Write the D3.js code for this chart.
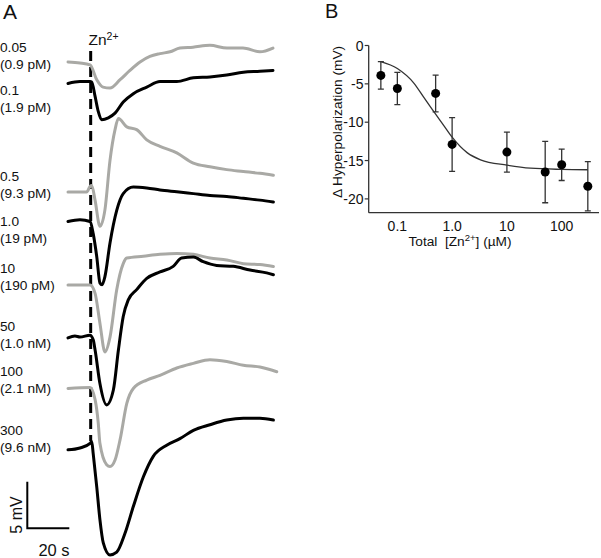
<!DOCTYPE html>
<html><head><meta charset="utf-8">
<script src="https://cdn.jsdelivr.net/npm/d3@7"></script>
<style>
html,body{margin:0;padding:0;background:#fff;}
svg{display:block;font-family:"Liberation Sans",Arial,sans-serif;}
</style></head>
<body><svg id="c" width="601" height="558"></svg>
<script>
// ---------- Panel A data: traces as [time (s), ΔV (mV)] ----------
const concLabels = ["0.05","0.1","0.5","1.0","10","50","100","300"];
const freeLabels = ["(0.9 pM)","(1.9 pM)","(9.3 pM)","(19 pM)","(190 pM)","(1.0 nM)","(2.1 nM)","(9.6 nM)"];
const traceColors = ["gray","black","gray","black","gray","black","gray","black"];
const traceOffsets = [-6.67,-8.87,-20.54,-23.82,-30.65,-36.24,-41.67,-48.17]; // stacking baseline, mV
const trace005 = [[0,0],[5.7,-0.1],[10.5,-0.3],[13.7,-1.9],[16.7,-2.7],[20,-2.8],[24.8,-1.9],[29.5,-0.9],[34.3,0],[39,0.6],[43.8,0.9],[48.6,1.1],[53.3,1.5],[59.5,1.6],[67.6,1.8],[75.7,1.5],[83.3,1.5],[91.4,1.1],[97.6,1.5]];
const trace01 = [[0,-0.1],[5.7,0.1],[10.5,0.1],[11.3,0.05],[12.9,-1.5],[14.4,-3.1],[16,-4.0],[19.2,-3.8],[22.4,-3.3],[26.3,-2.1],[31.1,-1.2],[37.5,-0.5],[43.8,0.1],[51.8,0.1],[59.7,0.5],[67.6,0.6],[75.6,0.8],[83.5,1.1],[91.4,1.2],[97.6,1.3]];
const trace05 = [[0,-0.1],[8.9,-0.1],[10.5,0.5],[11.3,0.6],[12.9,-1.0],[15.2,-3.8],[17.6,-2.0],[20,3.3],[22.4,6.6],[24,7.8],[28,6.9],[32.7,6.6],[37.5,5.5],[43.8,4.8],[51.8,4.1],[59.7,3.0],[67.6,2.6],[75.6,2.3],[83.5,2.1],[91.4,1.9],[97.8,1.7]];
const trace1 = [[0,0],[5.7,0.2],[10.5,0],[12,-1.3],[13.7,-3.8],[15.2,-6.6],[16.2,-6.8],[17.6,-5.9],[20,-2.3],[23.2,1.2],[26.3,3.0],[31.1,3.7],[37.5,3.6],[43.8,3.4],[51.8,3.2],[59.7,3.0],[67.6,2.8],[75.6,2.7],[83.5,2.5],[91.4,2.3],[97.8,2.1]];
const trace10 = [[0,0],[10.5,0],[12.9,-0.9],[15.2,-4.1],[17.6,-7.2],[20,-5.6],[23.2,-0.5],[26.3,2.3],[28,2.9],[35.9,3.1],[43.8,3.3],[51.8,3.4],[59.7,3.3],[67.6,2.9],[75.6,2.7],[83.5,2.3],[91.4,2.2],[97.8,2.0]];
const trace50 = [[0,-0.1],[3.3,0.1],[5.7,0],[10.5,0.2],[12,-0.3],[12.9,-1.4],[15.2,-5.0],[18.4,-7.3],[21.6,-5.7],[24,-1.4],[26.3,2.2],[28.7,4.0],[32.7,5.1],[37.5,6.3],[43.8,7.0],[50.1,7.6],[54.1,8.5],[59.7,8.6],[64.4,8.1],[70.8,7.7],[78.7,7.6],[86.7,7.2],[94.6,6.9],[97.8,6.7]];
const trace100 = [[0,-0.1],[10.5,0],[12.9,-1.3],[14.4,-3.8],[15.2,-6.0],[18.4,-8.3],[20,-8.5],[22.4,-7.8],[24.8,-5.6],[28,-1.7],[31.1,-0.1],[37.5,0.8],[43.8,1.3],[51.8,2.1],[59.7,2.6],[67.6,3.0],[75.6,2.8],[83.5,2.4],[91.4,2.2],[99.4,1.7]];
const trace300 = [[0,-0.2],[5.7,0],[10.5,0.5],[11.3,0.7],[12,-0.6],[13.7,-4.2],[15.2,-7.7],[16.8,-10.2],[20,-11.5],[23.2,-11.2],[27.1,-9.2],[31.1,-6.3],[35.9,-3.1],[40.6,-0.9],[47,0.3],[53.3,1.0],[59.7,1.9],[67.6,2.5],[75.6,3.0],[83.5,3.2],[91.4,3.2],[97.8,3.0]];
const traces = [trace005,trace01,trace05,trace1,trace10,trace50,trace100,trace300];
const zincOnset = 10.8; // s
const scaleBarMV = 5, scaleBarS = 20;

// ---------- Panel B data ----------
const totalZn = [0.05,0.1,0.5,1,10,50,100,300];
const hyperMean = [-3.9,-5.6,-6.25,-12.9,-13.9,-16.5,-15.55,-18.35];
const hyperErr = [1.8,2.1,2.4,3.5,2.6,4.0,2.05,3.2];
const fitX = [0.05,0.1,0.2,0.3,0.46,0.7,1,1.9,3.3,10,27,100,300];
const fitY = [-2.1,-3.0,-4.9,-6.7,-8.6,-10.4,-11.95,-14.0,-14.9,-15.6,-16.0,-16.15,-16.2];
const xTickVals = [0.1,1,10,100];
const xTickLabels = ["0.1","1.0","10","100"];
const yTickVals = [0,-5,-10,-15,-20];

const svg = d3.select("#c");
const GRAY = "#a9a9a5";

// ---------- Panel A ----------
const xT = d3.scaleLinear().domain([0,100]).range([68,278]);
const yV = d3.scaleLinear().domain([0,-60]).range([0,558]);
const gA = svg.append("g");
gA.append("text").attr("x",3).attr("y",19).attr("font-size",21).attr("fill","#111").text("A");

// dashed zinc line
gA.append("line").attr("x1",xT(zincOnset)).attr("x2",xT(zincOnset)).attr("y1",51).attr("y2",441)
  .attr("stroke","#000").attr("stroke-width",3).attr("stroke-dasharray","10,6");
const zn = gA.append("text").attr("x",88.5).attr("y",45).attr("font-size",15.5).attr("fill","#111");
zn.append("tspan").text("Zn");
zn.append("tspan").attr("dy",-5.5).attr("font-size",10.5).text("2+");

const line = d3.line().curve(d3.curveMonotoneX);
traces.forEach((tr,i)=>{
  line.x(d=>xT(d[0])).y(d=>yV(traceOffsets[i]+d[1]));
  gA.append("path").attr("d",line(tr)).attr("fill","none")
    .attr("stroke",traceColors[i]==="gray"?GRAY:"#000").attr("stroke-width",3)
    .attr("stroke-linejoin","round").attr("stroke-linecap","round");
});

// labels
const labelY1 = [47,90,176,221,268,326,371.7,430];
concLabels.forEach((s,i)=>{
  gA.append("text").attr("x",0).attr("y",labelY1[i]).attr("dy","0.35em").attr("font-size",13.7).attr("fill","#111").text(s);
  gA.append("text").attr("x",0).attr("y",labelY1[i]+16.8).attr("dy","0.35em").attr("font-size",13.7).attr("fill","#111").text(freeLabels[i]);
});

// scale bar
const sbX = 27.3, sbY = 528.3;
const sbH = yV(-scaleBarMV)-yV(0), sbW = xT(scaleBarS)-xT(0);
gA.append("path").attr("d",`M${sbX},${sbY-sbH}V${sbY}H${sbX+sbW}`).attr("fill","none").attr("stroke","#000").attr("stroke-width",2);
gA.append("text").attr("transform",`translate(21.5,515) rotate(-90)`).attr("text-anchor","middle").attr("font-size",16).attr("fill","#111").text(scaleBarMV+" mV");
gA.append("text").attr("x",54).attr("y",556).attr("text-anchor","middle").attr("font-size",16.5).attr("fill","#111").text(scaleBarS+" s");

// ---------- Panel B ----------
const x = d3.scaleLog().domain([0.03,480]).range([368.7,599]);
const y = d3.scaleLinear().domain([-21.8,0]).range([212.7,45.5]);
const gB = svg.append("g");
const AX = "#333";
gB.append("text").attr("x",325).attr("y",18).attr("font-size",20).attr("fill","#111").text("B");
gB.append("line").attr("x1",x.range()[0]).attr("x2",x.range()[0]).attr("y1",y.range()[1]).attr("y2",y.range()[0]).attr("stroke",AX).attr("stroke-width",1.3);
gB.append("line").attr("x1",x.range()[0]).attr("x2",x.range()[1]).attr("y1",y.range()[0]).attr("y2",y.range()[0]).attr("stroke",AX).attr("stroke-width",1.3);
yTickVals.forEach(v=>{
  gB.append("line").attr("x1",x.range()[0]-4).attr("x2",x.range()[0]).attr("y1",y(v)).attr("y2",y(v)).attr("stroke",AX).attr("stroke-width",1.2);
  gB.append("text").attr("x",363.5).attr("y",y(v)).attr("dy","0.36em").attr("text-anchor","end").attr("font-size",14).attr("fill","#111").text(v);
});
xTickVals.forEach((v,i)=>{
  gB.append("text").attr("x",x(v)).attr("y",226).attr("dy","0.36em").attr("text-anchor","middle").attr("font-size",14).attr("fill","#111").text(xTickLabels[i]);
});
const xt = gB.append("text").attr("x",460).attr("y",245.5).attr("text-anchor","middle").attr("font-size",13.7).attr("fill","#111").attr("xml:space","preserve").style("white-space","pre");
xt.append("tspan").text("Total  [Zn");
xt.append("tspan").attr("dy",-5).attr("font-size",9.5).text("2+");
xt.append("tspan").attr("dy",5).text("] (µM)");
gB.append("text").attr("transform","translate(341.5,122) rotate(-90)").attr("text-anchor","middle").attr("font-size",13.7).attr("fill","#111").text("Δ Hyperpolarization (mV)");

// fit curve
const fitLine = d3.line().x(d=>x(d[0])).y(d=>y(d[1])).curve(d3.curveMonotoneX);
gB.append("path").attr("d",fitLine(fitX.map((v,i)=>[v,fitY[i]]))).attr("fill","none").attr("stroke",AX).attr("stroke-width",1.3);

// error bars and points
totalZn.forEach((c,i)=>{
  const cx = x(c), top = y(hyperMean[i]+hyperErr[i]), bot = y(hyperMean[i]-hyperErr[i]);
  gB.append("path").attr("d",`M${cx},${top}V${bot}M${cx-3},${top}H${cx+3}M${cx-3},${bot}H${cx+3}`).attr("stroke",AX).attr("stroke-width",1.3).attr("fill","none");
  gB.append("circle").attr("cx",cx).attr("cy",y(hyperMean[i])).attr("r",4.5).attr("fill","#000");
});
</script></body></html>
